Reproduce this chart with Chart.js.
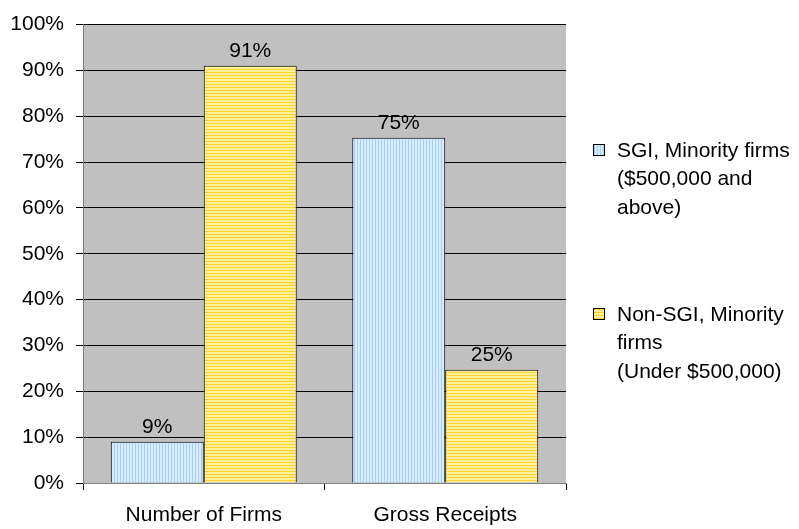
<!DOCTYPE html>
<html>
<head>
<meta charset="utf-8">
<style>
  html, body { margin: 0; padding: 0; background: #fff; }
  #wrap { width: 799px; height: 529px; }
</style>
</head>
<body>
<div id="wrap"><canvas id="firmsChart" width="799" height="529"></canvas></div>
<script src="https://cdn.jsdelivr.net/npm/chart.js"></script>
<script>
    // categories + series
    const categories = ['Number of Firms', 'Gross Receipts'];
    const sgiValues = [9, 75.3];
    const nonSgiValues = [91, 24.7];
    const seriesNames = [
        ['SGI, Minority firms', '($500,000 and', 'above)'],
        ['Non-SGI, Minority', 'firms', '(Under $500,000)']
    ];

    const FONT = '"Liberation Sans", Arial, sans-serif';
    const FONT_SIZE = 21;

    function stripePattern(base, stripe, vertical) {
        const c = document.createElement('canvas');
        c.width = 3; c.height = 3;
        const g = c.getContext('2d');
        g.fillStyle = base;
        g.fillRect(0, 0, 3, 3);
        g.fillStyle = stripe;
        if (vertical) g.fillRect(0, 0, 1, 3);
        else g.fillRect(0, 0, 3, 1);
        return g.createPattern(c, 'repeat');
    }

    const ctx = document.getElementById('firmsChart').getContext('2d');
    const bluePattern = stripePattern('#d8ebff', '#a8d0ff', true);
    const yellowPattern = stripePattern('#fff09a', '#ffd030', false);

    // gray plot area
    const plotBackground = {
        id: 'plotBackground',
        beforeDraw(chart) {
            const a = chart.chartArea;
            const c = chart.ctx;
            c.save();
            c.fillStyle = '#c0c0c0';
            c.fillRect(a.left, a.top, a.right - a.left, a.bottom - a.top);
            c.restore();
        }
    };

    // value labels over the bars
    const valueLabels = {
        id: 'valueLabels',
        afterDatasetsDraw(chart) {
            const c = chart.ctx;
            c.save();
            c.font = FONT_SIZE + 'px ' + FONT;
            c.fillStyle = '#000';
            c.textAlign = 'center';
            c.textBaseline = 'alphabetic';
            chart.data.datasets.forEach((ds, i) => {
                chart.getDatasetMeta(i).data.forEach((bar, j) => {
                    c.fillText(Math.round(ds.data[j]) + '%', bar.x, bar.y - 9);
                });
            });
            c.restore();
        }
    };

    // legend on the right, wrapped like the original
    const sideLegend = {
        id: 'sideLegend',
        afterDraw(chart) {
            const c = chart.ctx;
            const patterns = [bluePattern, yellowPattern];
            const centers = [151, 315];
            c.save();
            c.font = FONT_SIZE + 'px ' + FONT;
            c.textBaseline = 'middle';
            seriesNames.forEach((lines, i) => {
                c.fillStyle = patterns[i];
                c.fillRect(593.5, centers[i] - 6.5, 11, 11);
                c.strokeStyle = '#000';
                c.lineWidth = 1;
                c.strokeRect(593.5, centers[i] - 6.5, 11, 11);
                c.fillStyle = '#000';
                lines.forEach((t, k) => c.fillText(t, 617, centers[i] + k * 28.5));
            });
            c.restore();
        }
    };

    const chart = new Chart(ctx, {
        type: 'bar',
        data: {
            labels: categories,
            datasets: [{
                label: seriesNames[0].join(' '),
                data: sgiValues,
                backgroundColor: bluePattern,
                borderColor: '#000',
                borderWidth: 1,
                categoryPercentage: 0.77,
                barPercentage: 1.0
            }, {
                label: seriesNames[1].join(' '),
                data: nonSgiValues,
                backgroundColor: yellowPattern,
                borderColor: '#000',
                borderWidth: 1,
                categoryPercentage: 0.77,
                barPercentage: 1.0
            }]
        },
        options: {
            responsive: false,
            animation: false,
            layout: { padding: { top: 17, right: 233, left: 0, bottom: 0 } },
            plugins: {
                legend: { display: false },
                tooltip: { enabled: false }
            },
            scales: {
                x: {
                    afterFit(scale) { scale.height = 46; },
                    grid: {
                        display: true,
                        offset: true,
                        drawOnChartArea: false,
                        color: '#000',
                        tickLength: 7
                    },
                    border: { color: '#808080', width: 1 },
                    ticks: {
                        color: '#000',
                        padding: 13,
                        font: { family: FONT, size: FONT_SIZE }
                    }
                },
                y: {
                    min: 0,
                    max: 100,
                    afterFit(scale) { scale.width = 83; },
                    grid: {
                        color: '#000',
                        tickLength: 7
                    },
                    border: { color: '#808080', width: 1 },
                    ticks: {
                        stepSize: 10,
                        color: '#000',
                        padding: 12,
                        font: { family: FONT, size: FONT_SIZE },
                        callback: v => v + '%'
                    }
                }
            }
        },
        plugins: [plotBackground, valueLabels, sideLegend]
    });
</script>
</body>
</html>
